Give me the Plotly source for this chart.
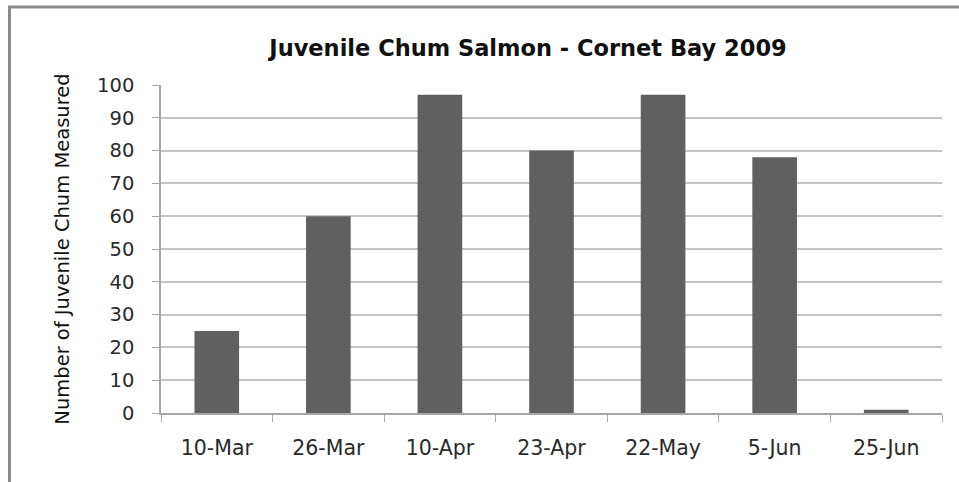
import plotly.graph_objects as go

dates = ["10-Mar", "26-Mar", "10-Apr", "23-Apr", "22-May", "5-Jun", "25-Jun"]
counts = [25, 60, 97, 80, 97, 78, 1]
y_ticks = [0, 10, 20, 30, 40, 50, 60, 70, 80, 90, 100]

W, H = 959, 482
ml, mr, mt, mb = 161, 17, 85, 69
pw = W - ml - mr
ph = H - mt - mb

FONT = "DejaVu Sans, Verdana, sans-serif"

fig = go.Figure(go.Bar(x=dates, y=counts, marker=dict(color="#606060", line=dict(width=0))))

fig.update_layout(
    width=W, height=H,
    margin=dict(l=ml, r=mr, t=mt, b=mb),
    paper_bgcolor="white", plot_bgcolor="white",
    bargap=0.6,
    showlegend=False,
    font=dict(family=FONT, color="#2a2a2a"),
    title=dict(text="<b>Juvenile Chum Salmon - Cornet Bay 2009</b>",
               x=528 / W, xanchor="center", y=1 - 48 / H, yanchor="middle",
               font=dict(size=22.5, color="#111111", family=FONT)),
    xaxis=dict(showline=True, linecolor="#a6a6a6", linewidth=1.5,
               ticks="outside", ticklen=7, tickcolor="#a6a6a6",
               tickson="boundaries", showgrid=False,
               ticklabelstandoff=16,
               tickfont=dict(size=20.5, color="#2a2a2a", family=FONT)),
    yaxis=dict(range=[0, 100], tickvals=y_ticks, showgrid=True,
               gridcolor="#c4c4c4", gridwidth=2,
               showline=True, linecolor="#a6a6a6", linewidth=1.5,
               ticks="outside", ticklen=7, tickcolor="#a6a6a6",
               ticklabelstandoff=14,
               tickfont=dict(size=19.5, color="#2a2a2a", family=FONT), zeroline=False,
               title=dict(text="Number of Juvenile Chum Measured",
                          font=dict(size=19.5, color="#111111", family=FONT), standoff=22)),
)

# outer frame (left and top edges visible in reference)
fig.add_shape(type="line", xref="paper", yref="paper",
              x0=(9.5 - ml) / pw, x1=(9.5 - ml) / pw,
              y0=(H - 7 - mb) / ph, y1=-(mb + 5) / ph,
              line=dict(color="#8a8a8a", width=3))
fig.add_shape(type="line", xref="paper", yref="paper",
              x0=(8 - ml) / pw, x1=(W + 5 - ml) / pw,
              y0=(H - 7 - mb) / ph, y1=(H - 7 - mb) / ph,
              line=dict(color="#8a8a8a", width=3))

fig.write_html("out.html", config={"displayModeBar": False},
               post_script="document.body.style.margin='0px';document.body.style.overflow='hidden';")
